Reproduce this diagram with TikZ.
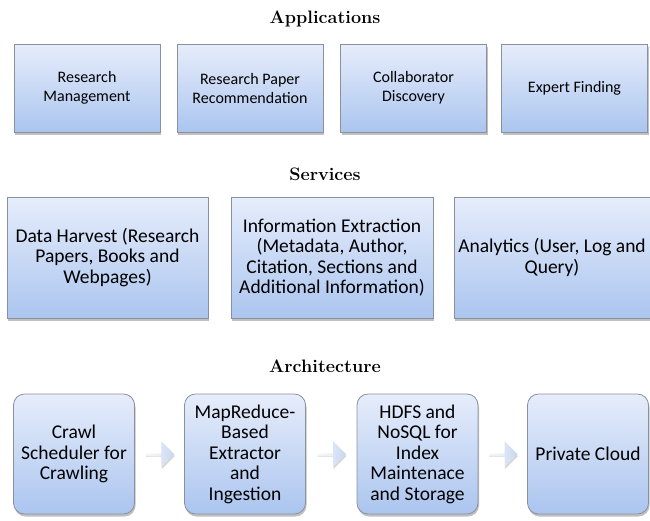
\documentclass[tikz,border=0pt]{standalone}
\usepackage{fontspec}
\usepackage{tikz}
\usetikzlibrary{shapes.arrows,shadows,calc}
\newfontfamily\boxfont{Carlito}
\definecolor{boxtop}{HTML}{E6EDFB}
\definecolor{boxbottom}{HTML}{ABC5EF}
\definecolor{boxedge}{HTML}{8A919C}
\definecolor{arrowtail}{HTML}{F2F6FC}
\definecolor{arrowtip}{HTML}{C8D7F0}
\tikzstyle{layertitle} = [font=\fontsize{18}{21}\selectfont\bfseries]
\tikzset{panel/.style={draw=boxedge, line width=0.8pt, top color=boxtop, bottom color=boxbottom,
        drop shadow={shadow xshift=1pt, shadow yshift=-2.5pt, opacity=0.45, fill=black!55},
        align=center, inner sep=2pt},
    appbox/.style={panel, minimum width=146pt, minimum height=88pt,
        font=\boxfont\fontsize{16}{19}\selectfont},
    servbox/.style={panel, minimum height=121pt,
        font=\boxfont\fontsize{19.5}{20.5}\selectfont},
    archbox/.style={panel, rounded corners=11pt, minimum width=121pt, minimum height=120pt,
        font=\boxfont\fontsize{19.5}{20.5}\selectfont},
    flow/.style={single arrow, minimum width=26pt, minimum height=29pt,
        single arrow head extend=5pt, inner sep=0pt, left color=arrowtail, right color=arrowtip,
        drop shadow={shadow xshift=0.5pt, shadow yshift=-2pt, opacity=0.35, fill=black!45}}}

\begin{document}
\begin{tikzpicture}[x=1pt,y=-1pt]
    \useasboundingbox (0,0) rectangle (650,520);
    % Applications layer
    \node[layertitle] (apptitle) at (325,19) {Applications};
    \node[appbox] (resmgmt) at (87,88) {Research\\Management};
    \node[appbox] (paperrec) at (250,88) {Research Paper\\Recommendation};
    \node[appbox] (collab) at (413.5,88) {Collaborator\\Discovery};
    \node[appbox] (expert) at (574.5,88) {Expert Finding};
    %
    % Services layer
    \node[layertitle] (servtitle) at (325,174) {Services};
    \node[servbox, minimum width=201pt] (harvest) at (107.5,257.5) {Data Harvest (Research\\Papers, Books and\\Webpages)};
    \node[servbox, minimum width=202pt] (extract) at (332,257.5) {Information Extraction\\(Metadata, Author,\\Citation, Sections and\\Additional Information)};
    \node[servbox, minimum width=196pt] (analytics) at (552,257.5) {Analytics (User, Log and\\Query)};
    %
    % Architecture layer
    \node[layertitle] (archtitle) at (325,366) {Architecture};
    \node[archbox] (crawl) at (74,454) {Crawl\\Scheduler for\\Crawling};
    \node[archbox] (mapred) at (245,454) {MapReduce-\\Based\\Extractor\\and\\Ingestion};
    \node[archbox] (hdfs) at (417.5,454) {HDFS and\\NoSQL for\\Index\\Maintenace\\and Storage};
    \node[archbox] (cloud) at (588,454) {Private Cloud};
    % block arrows between the stages
    \node[flow] (flowa) at ($(crawl.east)!0.5!(mapred.west)$) {};
    \node[flow] (flowb) at ($(mapred.east)!0.5!(hdfs.west)$) {};
    \node[flow] (flowc) at ($(hdfs.east)!0.5!(cloud.west)$) {};
\end{tikzpicture}
\end{document}
